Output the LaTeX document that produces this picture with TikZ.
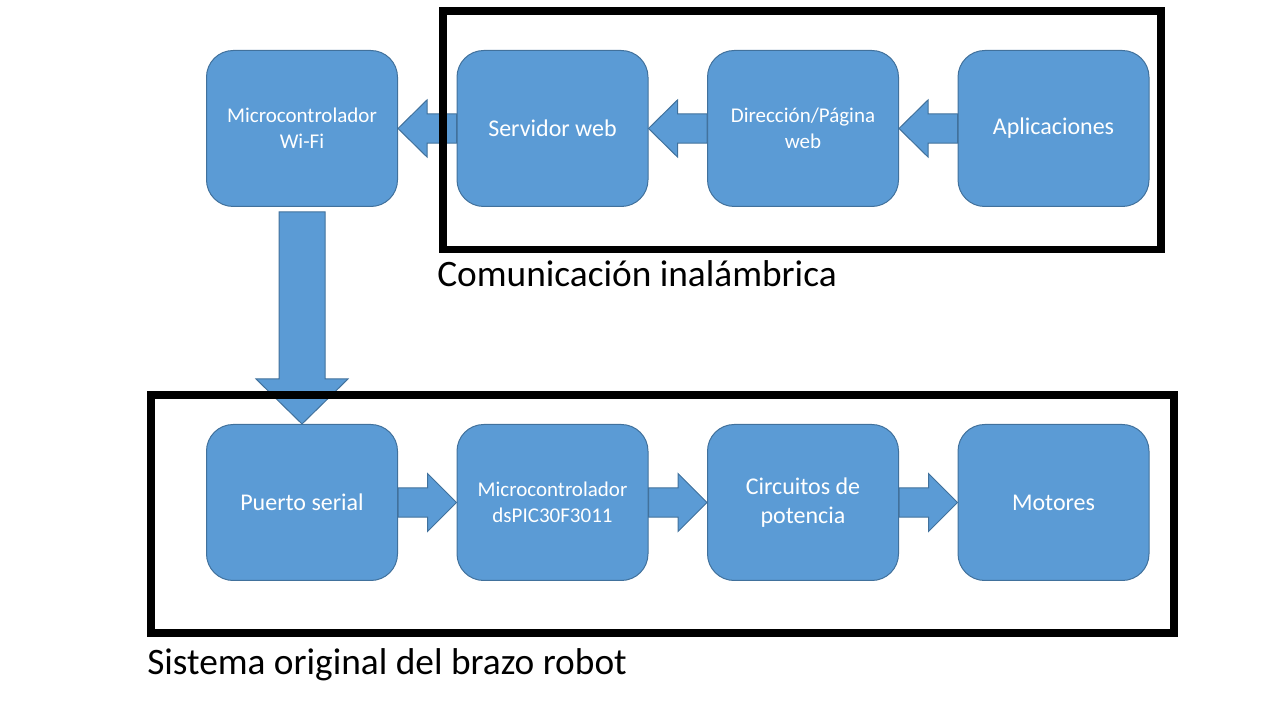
\documentclass[tikz,border=0pt]{standalone}
\usepackage{fontspec}
\setmainfont{Carlito}
\usetikzlibrary{calc}
\definecolor{azul}{HTML}{5B9BD5}
\definecolor{borde}{HTML}{41719C}
\tikzset{
  caja/.style={rectangle, rounded corners=20pt, fill=azul, draw=borde, line width=0.75pt,
    minimum width=143.25pt, minimum height=117pt, inner sep=0pt, text=white, align=center,
    font=\fontsize{18}{21.75}\selectfont},
  chica/.style={font=\fontsize{15.75}{19.5}\selectfont},
  bloque/.style={fill=azul, draw=borde, line width=0.75pt},
  marco/.style={draw=black, line width=5.6pt},
  etiqueta/.style={anchor=base west, inner sep=0pt, font=\fontsize{28}{33}\selectfont}
}
% flecha de bloque: inicio, punta, medio cuerpo, media cabeza, largo cabeza
\newcommand{\flecha}[5]{%
  \coordinate (base) at ($(#2)!#5!(#1)$);
  \filldraw[bloque] ($(#1)!#3!90:(#2)$) -- ($(base)!#3!90:(#2)$) -- ($(base)!#4!90:(#2)$) -- (#2)
    -- ($(base)!#4!-90:(#2)$) -- ($(base)!#3!-90:(#2)$) -- ($(#1)!#3!-90:(#2)$) -- cycle;}
\begin{document}
\begin{tikzpicture}[x=0.75pt, y=0.75pt]
	\useasboundingbox (0,0) rectangle (1280,720);
	
	%COMUNICACION INALAMBRICA
	\node[caja, chica] (wifi) at (302,591.5) {Microcontrolador\\Wi-Fi};
	\node[caja] (servidor) at (552.5,591.5) {Servidor web};
	\node[caja, chica] (pagina) at (803,591.5) {Dirección/Página\\web};
	\node[caja] (aplic) at (1053.5,591.5) {Aplicaciones};
	
	%SISTEMA ORIGINAL
	\node[caja] (puerto) at (302,217.5) {Puerto serial};
	\node[caja, chica] (dspic) at (552.5,217.5) {Microcontrolador\\dsPIC30F3011};
	\node[caja] (circuitos) at (803,217.5) {Circuitos de\\potencia};
	\node[caja] (motores) at (1053.5,217.5) {Motores};
	
	%FLECHE
	\flecha{servidor.west}{wifi.east}{10.9pt}{21.4pt}{21.75pt}
	\flecha{pagina.west}{servidor.east}{10.9pt}{21.4pt}{21.75pt}
	\flecha{aplic.west}{pagina.east}{10.9pt}{21.4pt}{21.75pt}
	\flecha{puerto.east}{dspic.west}{10.9pt}{21.75pt}{21.75pt}
	\flecha{dspic.east}{circuitos.west}{10.9pt}{21.75pt}{21.75pt}
	\flecha{circuitos.east}{motores.west}{10.9pt}{21.75pt}{21.75pt}
	\coordinate (bajada) at ($(wifi.south)+(0,-5)$);
	\flecha{bajada}{puerto.north}{17.25pt}{34.5pt}{33.75pt}
	
	%MARCHI
	\draw[marco] (443,709) rectangle (1161,470.5);
	\draw[marco] (151,325) rectangle (1174,87);
	\node[etiqueta] (etqcom) at (437,433) {Comunicación inalámbrica};
	\node[etiqueta] (etqsis) at (147,45) {Sistema original del brazo robot};
\end{tikzpicture}
\end{document}
